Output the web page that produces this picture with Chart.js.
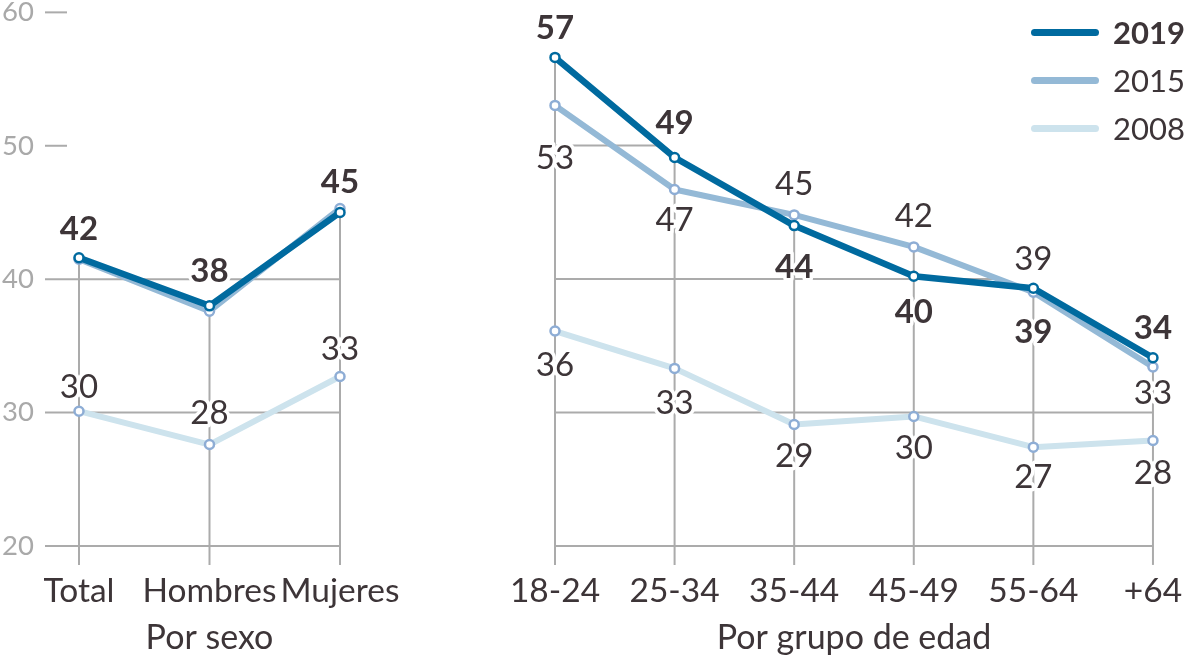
<!DOCTYPE html>
<html>
<head>
<meta charset="utf-8">
<script src="https://cdn.jsdelivr.net/npm/chart.js@4.4.1/dist/chart.umd.min.js"></script>
<style>
  html, body { margin: 0; padding: 0; background: #fff; }
  #wrap { position: relative; width: 1200px; height: 668px; overflow: hidden; font-family: Lato, sans-serif; color: #3d3538; }
  #left { position: absolute; left: 0; top: 0; width: 430px; height: 668px; }
  #right { position: absolute; left: 440px; top: 0; width: 767px; height: 668px; }
  .legend { position: absolute; left: 1031px; top: 8px; }
  .legend div { display: flex; align-items: center; height: 48px; font-size: 31px; }
  .legend i { display: inline-block; width: 68px; height: 7px; border-radius: 4px; margin-right: 14px; }
</style>
</head>
<body>
<div id="wrap">
  <div id="left"><canvas id="chart-left"></canvas></div>
  <div id="right"><canvas id="chart-right"></canvas></div>
  <div class="legend" id="legend"></div>
</div>
<script>
// categories
const sexLabels = ["Total", "Hombres", "Mujeres"];
const ageLabels = ["18-24", "25-34", "35-44", "45-49", "55-64", "+64"];
const years = ["2019", "2015", "2008"];

// values (%)
const sex2019 = [41.6, 38.0, 45.0];
const sex2015 = [41.5, 37.6, 45.3];
const sex2008 = [30.1, 27.6, 32.7];
const age2019 = [56.6, 49.1, 44.0, 40.2, 39.3, 34.1];
const age2015 = [53.0, 46.7, 44.8, 42.4, 39.0, 33.4];
const age2008 = [36.1, 33.3, 29.1, 29.7, 27.4, 27.9];

// y axis
const yTicks = [20, 30, 40, 50, 60];

// where the value labels sit (px from the point, negative = above, null = no label)
const sexDy2019 = [-30, -36, -31];
const sexDy2015 = [null, null, null];
const sexDy2008 = [-25, -33, -29];
const ageDy2019 = [-30, -35, 40, 35, 43, -31];
const ageDy2015 = [52, 29, -32, -32, -34, 25];
const ageDy2008 = [33, 34, 31, 31, 29, 32];

const COLORS = { "2019": "#006a9f", "2015": "#94b9d6", "2008": "#cde3ed" };
const POINT_BORDER = { "2019": "#006a9f", "2015": "#8eadd5", "2008": "#8eadd5" };
const GRID = "#ababab";
const TEXT = "#3d3538";

Chart.defaults.font.family = "Lato, sans-serif";

// grid lines only under the lines, plus drop lines from the top point of each category
const guides = {
  id: "guides",
  beforeDatasetsDraw(chart, args, opts) {
    const { ctx } = chart;
    const x = chart.scales.x, y = chart.scales.y;
    const sets = chart.data.datasets.map(d => d.data);
    const n = chart.data.labels.length;
    ctx.save();
    ctx.strokeStyle = GRID;
    ctx.lineWidth = 2;
    for (let i = 0; i < n; i++) {
      const top = Math.max(...sets.map(s => s[i]));
      const px = x.getPixelForValue(i);
      ctx.beginPath();
      ctx.moveTo(px, y.getPixelForValue(top));
      ctx.lineTo(px, y.bottom + opts.drop);
      ctx.stroke();
    }
    yTicks.forEach(v => {
      let end = -Infinity;
      sets.forEach(s => {
        let xe = -Infinity;
        if (s[n - 1] >= v) xe = n - 1;
        else {
          for (let i = n - 2; i >= 0; i--) {
            if (s[i] >= v) { xe = i + (s[i] - v) / (s[i] - s[i + 1]); break; }
          }
        }
        if (xe > -Infinity) {
          const i0 = Math.floor(xe), f = xe - i0;
          const p0 = x.getPixelForValue(i0);
          const p1 = i0 + 1 < n ? x.getPixelForValue(i0 + 1) : p0;
          end = Math.max(end, p0 + f * (p1 - p0));
        }
      });
      const start = opts.stub ? x.left - 34 : x.getPixelForValue(0);
      if (opts.stub) end = Math.max(end, x.left - 12);
      if (end > start) {
        const py = y.getPixelForValue(v);
        ctx.beginPath();
        ctx.moveTo(start, py);
        ctx.lineTo(end, py);
        ctx.stroke();
      }
    });
    ctx.restore();
  }
};

const valueLabels = {
  id: "valueLabels",
  afterDatasetsDraw(chart) {
    const { ctx } = chart;
    ctx.save();
    ctx.textAlign = "center";
    ctx.textBaseline = "alphabetic";
    ctx.lineJoin = "round";
    chart.data.datasets.forEach((ds, di) => {
      const meta = chart.getDatasetMeta(di);
      ctx.font = (ds.bold ? "bold " : "") + "33px Lato, sans-serif";
      meta.data.forEach((pt, i) => {
        const dy = ds.labelDy[i];
        if (dy === null) return;
        const txt = String(Math.round(ds.data[i]));
        const cy = pt.y + dy + 12;
        ctx.strokeStyle = "#fff";
        ctx.lineWidth = 7;
        ctx.strokeText(txt, pt.x, cy);
        ctx.fillStyle = TEXT;
        ctx.fillText(txt, pt.x, cy);
      });
    });
    ctx.restore();
  }
};

function series(year, data, dy) {
  return {
    label: year,
    data: data,
    labelDy: dy,
    bold: year === "2019",
    borderColor: COLORS[year],
    borderWidth: year === "2019" ? 6.5 : 6,
    borderCapStyle: "round",
    borderJoinStyle: "round",
    pointRadius: 4.5,
    pointBorderWidth: 2.5,
    pointBackgroundColor: "#fff",
    pointBorderColor: POINT_BORDER[year],
    tension: 0
  };
}

function makeChart(id, labels, datasets, title, withAxis, padding) {
  return new Chart(document.getElementById(id), {
    type: "line",
    data: { labels, datasets },
    options: {
      responsive: true,
      maintainAspectRatio: false,
      animation: false,
      events: [],
      layout: { padding },
      plugins: { legend: { display: false }, tooltip: { enabled: false }, guides: { stub: withAxis, drop: 19 } },
      scales: {
        x: {
          offset: false,
          grid: { display: false, drawTicks: false },
          border: { display: false },
          // tick padding counts twice in the axis height, so label centre = bottom + 45
          ticks: { color: TEXT, font: { size: 33.5, lineHeight: 1.2 }, padding: 24.9, maxRotation: 0, autoSkip: false },
          title: { display: true, text: title, color: TEXT, font: { size: 34, lineHeight: 0.12 }, padding: 0 }
        },
        y: {
          display: withAxis,
          min: 20, max: 60,
          afterBuildTicks: (s) => { s.ticks = yTicks.map(v => ({ value: v })); },
          afterFit: (s) => { if (withAxis) s.width = 77; },
          grid: { display: false, drawTicks: false },
          border: { display: false },
          ticks: { color: "#a9a9a9", font: { size: 27.5, lineHeight: 0.9 }, padding: 0, crossAlign: "far" }
        }
      }
    },
    plugins: [guides, valueLabels]
  });
}

makeChart("chart-left", sexLabels, [
  series("2019", sex2019, sexDy2019),
  series("2015", sex2015, sexDy2015),
  series("2008", sex2008, sexDy2008)
], "Por sexo", true, { top: 12, right: 90, bottom: 28, left: 2 });

makeChart("chart-right", ageLabels, [
  series("2019", age2019, ageDy2019),
  series("2015", age2015, ageDy2015),
  series("2008", age2008, ageDy2008)
], "Por grupo de edad", false, { top: 12, right: 48, bottom: 28, left: 115 });

// legend
const legend = document.getElementById("legend");
years.forEach(yr => {
  const row = document.createElement("div");
  const sw = document.createElement("i");
  sw.style.background = COLORS[yr];
  const t = document.createElement("span");
  t.textContent = yr;
  if (yr === "2019") t.style.fontWeight = "bold";
  row.append(sw, t);
  legend.append(row);
});
</script>
</body>
</html>
